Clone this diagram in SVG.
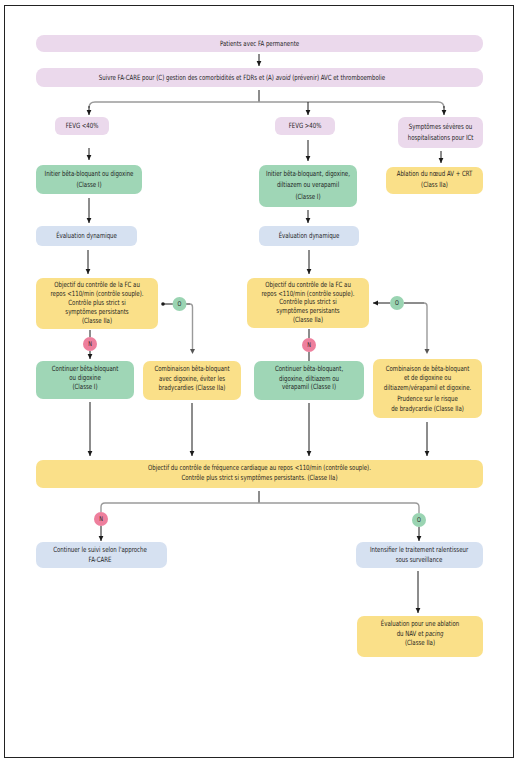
<svg xmlns="http://www.w3.org/2000/svg" width="518" height="762" viewBox="0 0 518 762">
<defs>
<marker id="ah" markerUnits="userSpaceOnUse" markerWidth="6" markerHeight="6" viewBox="0 0 6 6" refX="5" refY="3" orient="auto">
<path d="M0,0.6 L5,3 L0,5.4 Z" fill="#1a1a1a"/>
</marker>
<style>
text{font-family:"DejaVu Sans Condensed","DejaVu Sans","Liberation Sans",sans-serif;font-size:7.2px;fill:#1e1e1e;text-anchor:middle;transform-box:fill-box;transform-origin:center;transform:scaleX(0.84)}
.pk{fill:#ebd9ec}
.gr{fill:#9fd6b6}
.ye{fill:#fae089}
.bl{fill:#d6e1f1}
.cn{fill:#ee7f9d}
.co{fill:#9ad4b2}
.ln{stroke:#1a1a1a;stroke-width:1;fill:none}
.ar{stroke:#1a1a1a;stroke-width:1;fill:none;marker-end:url(#ah)}
.gy{stroke:#9a9a9a;stroke-width:1.4;fill:none}
.lb{font-size:6.5px;fill:#222}
</style>
</defs>
<rect x="0" y="0" width="518" height="762" fill="#ffffff"/>
<rect x="4.5" y="5.5" width="509" height="752" fill="none" stroke="#222" stroke-width="1"/>

<g id="connectors">
<line class="ar" x1="259" y1="54" x2="259" y2="66"/>
<line class="ln" x1="259" y1="90" x2="259" y2="102"/>
<path class="gy" d="M89,108 Q89,102 95,102 H438 Q444,102 444,108"/>
<line class="ar" x1="89" y1="106" x2="89" y2="115"/>
<line class="ar" x1="308" y1="102" x2="308" y2="115"/>
<line class="ar" x1="444" y1="106" x2="444" y2="115"/>
<line class="ar" x1="89" y1="148" x2="89" y2="160"/>
<line class="ar" x1="308" y1="140" x2="308" y2="161"/>
<line class="ar" x1="441" y1="151" x2="441" y2="163"/>
<line class="ar" x1="89" y1="198" x2="89" y2="223"/>
<line class="ar" x1="308" y1="210" x2="308" y2="223"/>
<line class="ar" x1="88" y1="250" x2="88" y2="274"/>
<line class="ar" x1="309" y1="250" x2="309" y2="274"/>
<line class="ln" x1="90" y1="330" x2="90" y2="337"/>
<line class="ar" x1="90" y1="351" x2="90" y2="359"/>
<line class="ln" x1="309" y1="329" x2="309" y2="338"/>
<line class="ln" x1="309" y1="352" x2="309" y2="361"/>
<circle cx="163" cy="304" r="1.8" fill="#1a1a1a"/>
<line class="ln" x1="163" y1="304" x2="173" y2="304"/>
<line class="ln" x1="186" y1="304" x2="190" y2="304"/>
<path class="gy" d="M190,304 Q192.5,304 192.5,307 V349"/>
<path d="M190,349 L192.5,354 L195,349 Z" fill="#555"/>
<line class="ar" x1="390" y1="303" x2="373" y2="303"/>
<line class="ln" x1="404" y1="303" x2="424" y2="303"/>
<path class="gy" d="M424,303 Q427,303 427,306 V349"/>
<path d="M424.5,349 L427,354 L429.5,349 Z" fill="#555"/>
<line class="ar" x1="90" y1="402" x2="90" y2="456"/>
<line class="ar" x1="192" y1="403" x2="192" y2="456"/>
<line class="ar" x1="309" y1="403" x2="309" y2="456"/>
<line class="ar" x1="427" y1="422" x2="427" y2="456"/>
<line class="ln" x1="259" y1="491" x2="259" y2="503"/>
<path class="gy" d="M101,512 V507 Q101,503 105,503 H415 Q419,503 419,507 V513"/>
<line class="ar" x1="101" y1="526" x2="101" y2="541"/>
<line class="ar" x1="419" y1="527" x2="419" y2="541"/>
<line class="ar" x1="418" y1="571" x2="418" y2="613"/>
</g>

<g id="n-patients"><rect class="pk" x="36" y="35" width="447" height="17" rx="8"/><text x="259.5" y="46">Patients avec FA permanente</text></g>
<g id="n-suivre"><rect class="pk" x="36" y="68" width="447" height="19" rx="8"/><text x="242" y="80">Suivre FA-CARE pour (C) gestion des comorbidités et FDRs et (A) <tspan font-style="italic">avoid</tspan> (prévenir) AVC et thromboembolie</text></g>
<g id="n-fevg-lt"><rect class="pk" x="55" y="117" width="54" height="18" rx="6"/><text x="82" y="128.5">FEVG &lt;40%</text></g>
<g id="n-fevg-gt"><rect class="pk" x="275" y="117" width="60" height="18" rx="6"/><text x="305" y="128.5">FEVG &gt;40%</text></g>
<g id="n-sympt"><rect class="pk" x="398" y="117" width="85" height="31" rx="7"/><text x="440.5" y="129">Symptômes sévères ou</text><text x="440.5" y="140">hospitalisations pour ICt</text></g>

<g id="n-initier-l"><rect class="gr" x="36" y="165" width="106" height="29" rx="7"/><text x="89" y="176">Initier bêta-bloquant ou digoxine</text><text x="89" y="187">(Classe I)</text></g>
<g id="n-initier-m"><rect class="gr" x="259" y="165" width="98" height="42" rx="7"/><text x="308" y="176">Initier bêta-bloquant, digoxine,</text><text x="308" y="187.5">diltiazem ou verapamil</text><text x="308" y="199">(Classe I)</text></g>
<g id="n-ablation"><rect class="ye" x="386" y="167" width="97" height="27" rx="7"/><text x="434.5" y="176">Ablation du nœud AV + CRT</text><text x="434.5" y="187">(Class IIa)</text></g>

<g id="n-eval-l"><rect class="bl" x="36" y="226" width="101" height="20" rx="6"/><text x="86.5" y="238.5">Évaluation dynamique</text></g>
<g id="n-eval-m"><rect class="bl" x="259" y="226" width="100" height="20" rx="6"/><text x="309" y="238.5">Évaluation dynamique</text></g>

<g id="n-obj-l"><rect class="ye" x="36" y="278" width="122" height="51" rx="7"/>
<text x="97" y="286.8">Objectif du contrôle de la FC au</text><text x="97" y="295.8">repos &lt;110/min (contrôle souple).</text><text x="97" y="304.8">Contrôle plus strict si</text><text x="97" y="313.8">symptômes persistants</text><text x="97" y="322.8">(Classe IIa)</text></g>
<g id="n-obj-m"><rect class="ye" x="247" y="278" width="122" height="50" rx="7"/>
<text x="308" y="286.8">Objectif du contrôle de la FC au</text><text x="308" y="295.8">repos &lt;110/min (contrôle souple).</text><text x="308" y="304.5">Contrôle plus strict si</text><text x="308" y="313.3">symptômes persistants</text><text x="308" y="322">(Classe IIa)</text></g>

<g id="c-o1"><circle class="co" cx="179.5" cy="304" r="7"/><text class="lb" x="179.5" y="306.4">O</text></g>
<g id="c-n1"><circle class="cn" cx="90" cy="344" r="7"/><text class="lb" x="90" y="346.4">N</text></g>
<g id="c-o2"><circle class="co" cx="397" cy="303" r="7"/><text class="lb" x="397" y="305.4">O</text></g>
<g id="c-n2"><circle class="cn" cx="309" cy="345" r="7"/><text class="lb" x="309" y="347.4">N</text></g>

<g id="n-cont-l"><rect class="gr" x="36" y="361" width="98" height="38" rx="7"/><text x="85" y="370.8">Continuer bêta-bloquant</text><text x="85" y="380.2">ou digoxine</text><text x="85" y="389.2">(Classe I)</text></g>
<g id="n-comb-l"><rect class="ye" x="143" y="361" width="98" height="39" rx="7"/><text x="192" y="370.8">Combinaison bêta-bloquant</text><text x="192" y="380.8">avec digoxine, éviter les</text><text x="192" y="390.2">bradycardies (Classe IIa)</text></g>
<g id="n-cont-m"><rect class="gr" x="254" y="361" width="110" height="39" rx="7"/><text x="309" y="371.5">Continuer bêta-bloquant,</text><text x="309" y="380.8">digoxine, diltiazem ou</text><text x="309" y="389.2">vérapamil (Classe I)</text></g>
<g id="n-comb-r"><rect class="ye" x="373" y="359" width="109" height="59" rx="7"/><text x="427.5" y="370.8">Combinaison de bêta-bloquant</text><text x="427.5" y="380.2">et de digoxine ou</text><text x="427.5" y="389.8">diltiazem/vérapamil et digoxine.</text><text x="427.5" y="400.8">Prudence sur le risque</text><text x="427.5" y="410.8">de bradycardie (Classe IIa)</text></g>

<g id="n-objectif-big"><rect class="ye" x="36" y="460" width="447" height="28" rx="7"/><text x="259.5" y="470.2">Objectif du contrôle de fréquence cardiaque au repos &lt;110/min (contrôle souple).</text><text x="259.5" y="479.8">Contrôle plus strict si symptômes persistants. (Classe IIa)</text></g>

<g id="c-n3"><circle class="cn" cx="101" cy="519" r="7"/><text class="lb" x="101" y="521.4">N</text></g>
<g id="c-o3"><circle class="co" cx="419" cy="520" r="7"/><text class="lb" x="419" y="522.4">O</text></g>

<g id="n-suivi"><rect class="bl" x="36" y="542" width="131" height="26" rx="7"/><text x="100" y="551.8">Continuer le suivi selon l'approche</text><text x="100" y="561.8">FA-CARE</text></g>
<g id="n-intens"><rect class="bl" x="356" y="542" width="127" height="26" rx="7"/><text x="419" y="551.8">Intensifier le traitement ralentisseur</text><text x="419" y="561.8">sous surveillance</text></g>
<g id="n-eval-abl"><rect class="ye" x="357" y="616" width="126" height="41" rx="7"/><text x="420" y="626.5">Évaluation pour une ablation</text><text x="420" y="636.2">du NAV et <tspan font-style="italic">pacing</tspan></text><text x="420" y="645.5">(Classe IIa)</text></g>
</svg>
